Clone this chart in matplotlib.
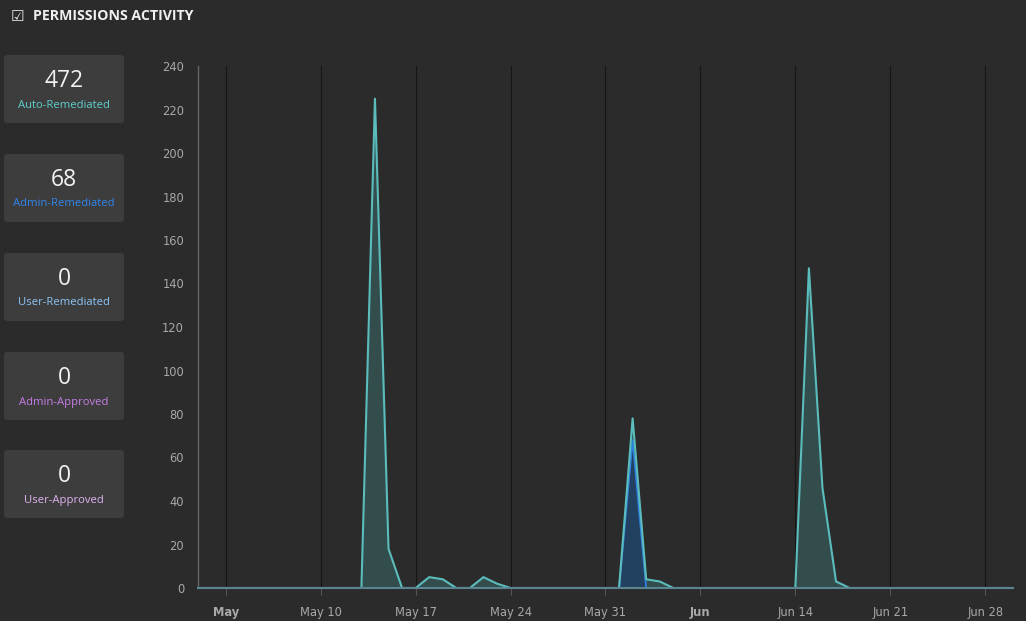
import matplotlib
matplotlib.use("Agg")
import matplotlib.pyplot as plt
import matplotlib.dates as mdates
from matplotlib.patches import FancyBboxPatch
import numpy as np
import datetime as dt

# ---- data ----
start = dt.date(2020, 5, 1)
dates = [start + dt.timedelta(days=i) for i in range(61)]  # May 1 .. Jun 30

auto_points = {dt.date(2020, 5, 14): 225, dt.date(2020, 5, 15): 18,
               dt.date(2020, 5, 18): 5, dt.date(2020, 5, 19): 4,
               dt.date(2020, 5, 22): 5, dt.date(2020, 5, 23): 2,
               dt.date(2020, 6, 2): 10, dt.date(2020, 6, 3): 4, dt.date(2020, 6, 4): 3,
               dt.date(2020, 6, 15): 147, dt.date(2020, 6, 16): 46, dt.date(2020, 6, 17): 3}
admin_points = {dt.date(2020, 6, 2): 68}
auto_remediated = [auto_points.get(d, 0) for d in dates]
admin_remediated = [admin_points.get(d, 0) for d in dates]

card_values = ["472", "68", "0", "0", "0"]
card_labels = ["Auto-Remediated", "Admin-Remediated", "User-Remediated",
               "Admin-Approved", "User-Approved"]
card_colors = ["#5fd0cc", "#2f86ee", "#8cc4f6", "#c57ee6", "#dfb2f2"]

tick_dates = [dt.date(2020, 5, 3), dt.date(2020, 5, 10), dt.date(2020, 5, 17),
              dt.date(2020, 5, 24), dt.date(2020, 5, 31), dt.date(2020, 6, 7),
              dt.date(2020, 6, 14), dt.date(2020, 6, 21), dt.date(2020, 6, 28)]
tick_labels = ["May", "May 10", "May 17", "May 24", "May 31", "Jun",
               "Jun 14", "Jun 21", "Jun 28"]
bold_ticks = {"May", "Jun"}

# ---- figure ----
BG = "#2b2b2b"
W, H = 1026, 621
fig = plt.figure(figsize=(W/100, H/100), dpi=100, facecolor=BG)

def fx(px): return px / W
def fy(py): return 1 - py / H

# header
fig.text(fx(11), fy(16), "\u2611", color="#e8e8e8", fontsize=11, va="center", ha="left",
         family="DejaVu Sans")
fig.text(fx(33), fy(16), "PERMISSIONS ACTIVITY", color="#f0f0f0", fontsize=10.2,
         fontweight="bold", va="center", ha="left", family="Open Sans")

# cards
card_tops = [55, 154, 253, 352, 450]
for top, v, lab, col in zip(card_tops, card_values, card_labels, card_colors):
    x0, x1 = 4, 124
    y0, y1 = top, top + 68
    box = FancyBboxPatch((fx(x0), fy(y1)), fx(x1 - x0), (y1 - y0) / H,
                         boxstyle="round,pad=0,rounding_size=0.004",
                         transform=fig.transFigure, facecolor="#3d3d3d",
                         edgecolor="none")
    fig.patches.append(box)
    fig.text(fx(64), fy(top + 26), v, color="#f2f2f2", fontsize=16.5,
             ha="center", va="center", family="Open Sans")
    fig.text(fx(64), fy(top + 50), lab, color=col, fontsize=8.1,
             ha="center", va="center", family="Open Sans")

# chart
ax = fig.add_axes([fx(198), fy(588), fx(1013 - 198), (588 - 66) / H])
ax.set_facecolor(BG)
xd = mdates.date2num(dates)
admin = np.array(admin_remediated, dtype=float)
auto = np.array(auto_remediated, dtype=float)
top = admin + auto

ax.fill_between(xd, 0, admin, color="#22405f", lw=0, zorder=2)
ax.fill_between(xd, admin, top, color="#34504f", alpha=0.95, lw=0, zorder=2)
ax.plot(xd, admin, color="#2e80e0", lw=1.3, zorder=3)
ax.plot(xd, top, color="#5bbcbc", lw=1.5, zorder=4)

ax.set_xlim(mdates.date2num(dt.date(2020, 5, 1)) - 0.05,
            mdates.date2num(dt.date(2020, 6, 30)) + 0.05)
ax.set_ylim(0, 240)
ax.set_yticks(np.arange(0, 241, 20))
ax.tick_params(axis="y", length=0, colors="#a8a8a8", labelsize=8.3, pad=10)
ax.set_xticks(mdates.date2num(tick_dates))
ax.set_xticklabels(tick_labels)
ax.tick_params(axis="x", length=5, width=0.8, color="#555555", colors="#a8a8a8",
               labelsize=8.3, pad=8)
for lbl in ax.get_xticklabels():
    if lbl.get_text() in bold_ticks:
        lbl.set_fontweight("bold")
for lbl in ax.get_xticklabels() + ax.get_yticklabels():
    lbl.set_family("DejaVu Sans")

ax.grid(axis="x", color="#161616", lw=0.8, zorder=1)
ax.grid(axis="y", visible=False)
for s in ["top", "right"]:
    ax.spines[s].set_visible(False)
ax.spines["left"].set_color("#666666")
ax.spines["left"].set_linewidth(1.0)
ax.spines["bottom"].set_color("#5a8590")
ax.spines["bottom"].set_linewidth(1.5)
ax.spines["bottom"].set_zorder(5)

fig.savefig("out.png", dpi=100, facecolor=BG)
